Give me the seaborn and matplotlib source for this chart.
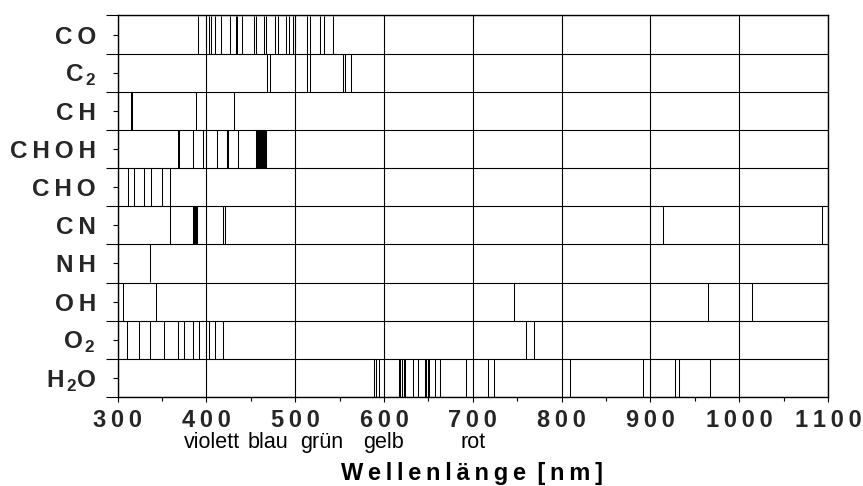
import numpy as np
import pandas as pd
import matplotlib
matplotlib.use("Agg")
import matplotlib.pyplot as plt
import matplotlib.transforms as mtransforms
import seaborn as sns

# ---------------- data ----------------
species = ["CO", "C2", "CH", "CHOH", "CHO", "CN", "NH", "OH", "O2", "H2O"]
species_labels = ["C\u2009O", r"$\mathbf{C}_{\,\mathbf{2}}$", "C\u2009H", "C\u2009H\u2009O\u2009H",
                  "C\u2009H\u2009O", "C\u2009N", "N\u2009H", "O\u2009H",
                  r"$\mathbf{O}_{\,\mathbf{2}}$", r"$\mathbf{H}_{\,\mathbf{2}}\mathbf{O}$"]

co_lines = [391, 400, 403, 405, 410, 416, 427, 433.5, 434.5, 440.5, 453.5, 455.5, 465, 467.5,
            477, 480, 490, 493, 497, 499.5, 513, 517, 528, 532, 543]
c2_lines = [468.5, 471, 513, 516.5, 553.5, 556, 562.5]
ch_lines = [314.5, 315.8, 387.7, 431.2]
choh_lines = [367.5, 369.5, 385, 395.6, 412, 422.8, 423.6, 424.4, 435,
              455.5, 456.5, 457.5, 458.5, 459.5, 460.5, 461.5, 462.5, 463.5, 464.5, 465.5, 466.5, 467.3]
cho_lines = [312, 318.7, 330, 337.5, 349.5, 359.2]
cn_lines = [359.2, 385.3, 386.3, 387.3, 388.3, 388.9, 418.5, 421, 914.2, 1092.7]
nh_lines = [336.3]
oh_lines = [305.6, 343.4, 746.2, 965.2, 1014.3]
o2_lines = [310.8, 323.9, 336.3, 351.7, 367.4, 374.6, 384.7, 391.8, 402.3, 409.8, 418.8, 760.1, 768.4]
h2o_lines = [588.3, 591.3, 594.3, 616.5, 618.4, 620.2, 622.5, 624, 632.6, 638.2, 645.7, 647.6,
             649.1, 650.6, 657.7, 663, 692.6, 717, 723.4, 809.6, 891.4, 927.7, 932.6, 966.7]

x_major_ticks = [300, 400, 500, 600, 700, 800, 900, 1000, 1100]
x_minor_ticks = [350, 450, 550, 650, 750, 850, 950, 1050]
color_names = ["violett", "blau", "grün", "gelb", "rot"]
color_name_pos = [405.8, 469, 529.3, 599.6, 699.7]
x_label_words = ["Wellenlänge", "[nm]"]

all_lines = [co_lines, c2_lines, ch_lines, choh_lines, cho_lines, cn_lines,
             nh_lines, oh_lines, o2_lines, h2o_lines]
df = pd.DataFrame(
    [(sp, i, wl) for i, (sp, lines) in enumerate(zip(species, all_lines)) for wl in lines],
    columns=["species", "row", "wl"],
)

# ---------------- style ----------------
sns.set_theme(style="white")
plt.rcParams["font.family"] = ["Liberation Sans", "DejaVu Sans"]
plt.rcParams["mathtext.fontset"] = "custom"
plt.rcParams["mathtext.bf"] = "Liberation Sans:bold"
plt.rcParams["mathtext.rm"] = "Liberation Sans"
plt.rcParams["axes.unicode_minus"] = False

W, H, DPI = 863, 486, 100
fig = plt.figure(figsize=(W / DPI, H / DPI), dpi=DPI)
ax_left, ax_right, ax_top, ax_bottom = 117.7, 828.0, 15.5, 397.0
ax = fig.add_axes([ax_left / W, 1 - ax_bottom / H, (ax_right - ax_left) / W, (ax_bottom - ax_top) / H])

# row height in points -> marker length
row_h_pt = (ax_bottom - ax_top) / DPI * 72 / len(species)
sns.scatterplot(data=df, x="wl", y="row", marker="|", s=row_h_pt ** 2, color="black",
                linewidth=0.75, legend=False, ax=ax, zorder=3)

ax.set_xlim(300, 1100)
ax.set_ylim(len(species) - 0.5, -0.5)

# y: major at boundaries (grid), minor at centres (labels)
ax.set_yticks(np.arange(-0.5, len(species), 1.0))
ax.set_yticklabels([])
ax.set_yticks(range(len(species)), labels=species_labels, minor=True,
              fontweight="bold", fontsize=17.5)
ax.tick_params(axis="y", which="major", length=8.6, width=0.8, color="black", direction="out", left=True)
ax.tick_params(axis="y", which="minor", length=3.6, width=0.8, color="black", direction="out",
               pad=12, left=True)

ax.set_xticks(x_major_ticks, labels=["\u2009".join(str(v)) for v in x_major_ticks],
              fontweight="bold", fontsize=17)
ax.set_xticks(x_minor_ticks, minor=True)
ax.tick_params(axis="x", which="major", length=3.8, width=0.8, color="black", direction="out",
               pad=5, bottom=True)
ax.tick_params(axis="x", which="minor", length=3.2, width=0.8, color="black", direction="out",
               bottom=True)

ax.grid(True, which="major", color="black", linewidth=0.8)
ax.set_axisbelow(True)
for sp in ax.spines.values():
    sp.set_visible(True)
    sp.set_color("black")
    sp.set_linewidth(1.0)
ax.set_xlabel("")
ax.set_ylabel("")

trans = mtransforms.blended_transform_factory(ax.transData, ax.transAxes)
base_y = (ax_bottom - 447.7) / (ax_bottom - ax_top)
for name, pos in zip(color_names, color_name_pos):
    ax.text(pos, base_y, name, transform=trans, ha="center", va="baseline", fontsize=15.5,
            color="black")

spaced_label = " \u2009".join("\u2009".join(w) for w in x_label_words)
fig.text(471.7 / W, 1 - 480 / H, spaced_label, ha="center", va="baseline",
         fontsize=17, fontweight="bold", color="black")

fig.savefig("out.png", dpi=DPI)
